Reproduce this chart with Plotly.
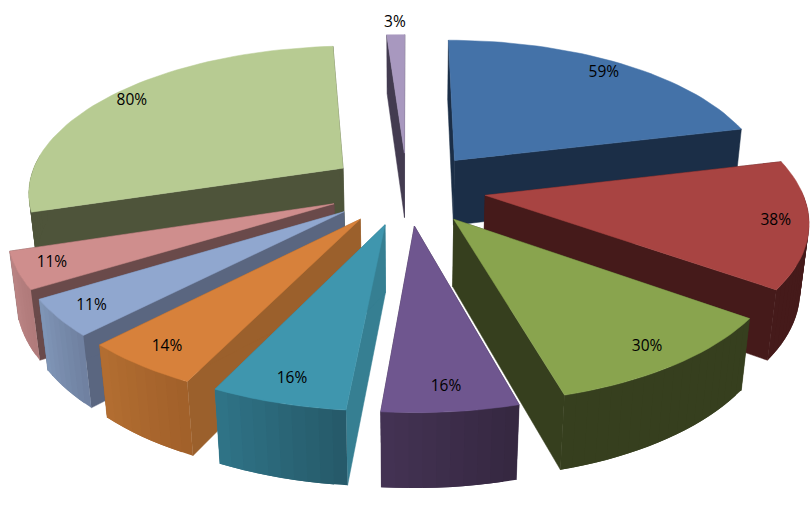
import math
import plotly.graph_objects as go

values = [59, 38, 30, 16, 16, 14, 11, 11, 80, 3]
top_colors = ["#4472a8", "#a84442", "#89a44e", "#6f568f", "#3f96ae", "#d7813b", "#90a7cf", "#cf8e8d", "#b7cb92", "#a898bf"]
rim_left = ["#1b2e47", "#451a1a", "#363f1e", "#443354", "#2f7488", "#b36e31", "#8096b8", "#bb8585", "#4e543a", "#433b50"]
rim_right = ["#1b2e47", "#451a1a", "#363f1e", "#352740", "#265968", "#a1602a", "#6f809f", "#b07a7a", "#4e543a", "#433b50"]
side_colors = ["#1b2e47", "#451a1a", "#363f1e", "#3a2b48", "#367f92", "#9b602c", "#5a6680", "#6a4a4a", "#4e543a", "#433b50"]
labels = [f"{v}%" for v in values]

CX, CY, F, G, K, H, M, E = 407, 188.3, 316, 146, 0.15, 66, 0.022, 0.25


def project(x, y, z):
    w = 1 + K * y + M * z
    wz = 1 + 0.10 * y
    return CX + F * x / w, CY - G * y / (1 + K * y) + H * z / wz


def poly(fig, pts, color, lw=0.5):
    fig.add_trace(go.Scatter(
        x=[p[0] for p in pts] + [pts[0][0]],
        y=[p[1] for p in pts] + [pts[0][1]],
        mode="lines", fill="toself", fillcolor=color,
        line=dict(color=color, width=lw), hoverinfo="skip", showlegend=False,
    ))


def lerp(a, b, t):
    ca = [int(a[i:i + 2], 16) for i in (1, 3, 5)]
    cb = [int(b[i:i + 2], 16) for i in (1, 3, 5)]
    return "#%02x%02x%02x" % tuple(round(p + (q - p) * t) for p, q in zip(ca, cb))


total = sum(values)
slices = []
start = 0.0
for i, v in enumerate(values):
    sweep = v / total * 2 * math.pi
    slices.append((i, start, start + sweep))
    start += sweep

fig = go.Figure()
label_x, label_y = [], []


def offs(mid):
    return E * math.sin(mid), E * math.cos(mid)


order = sorted(slices, key=lambda s: -offs((s[1] + s[2]) / 2)[1])
for i, a0, a1 in order:
    mid = (a0 + a1) / 2
    ox, oy = offs(mid)
    n = max(8, int((a1 - a0) * 30))
    angs = [a0 + (a1 - a0) * j / n for j in range(n + 1)]
    ring = [(ox + math.sin(a), oy + math.cos(a)) for a in angs]
    # radial side walls
    for a in (a0, a1):
        ex, ey = ox + math.sin(a), oy + math.cos(a)
        poly(fig, [project(ox, oy, 0), project(ex, ey, 0), project(ex, ey, 1), project(ox, oy, 1)], side_colors[i])
    # outer rim, front-facing part only; each strip overlaps the next to avoid seams
    for j in range(n):
        if math.cos(angs[j]) < 0.03 or math.cos(angs[j + 1]) < 0.03:
            k = min(j + 2, n)
            (x0, y0), (x1, y1) = ring[j], ring[k]
            poly(fig, [project(x0, y0, 0), project(*ring[j + 1], 0), project(x1, y1, 0),
                       project(x1, y1, 1), project(*ring[j + 1], 1), project(x0, y0, 1)],
                 lerp(rim_right[i], rim_left[i], (j + 0.5) / n), lw=0)
    # top face
    poly(fig, [project(ox, oy, 0)] + [project(x, y, 0) for x, y in ring], top_colors[i])
    c = math.cos(mid)
    if i == 9:
        r = 1.115
    else:
        r = 0.8 + 0.1 * math.sin(mid) ** 2 + 0.07 * max(c, 0) + 0.085 * (c * c if c < 0 else 0)
    lx, ly = project(ox + r * math.sin(mid), oy + r * c, 0)
    label_x.append(lx)
    label_y.append(ly)

fig.add_trace(go.Scatter(
    x=label_x, y=label_y, mode="text",
    text=[labels[s[0]] for s in order],
    textfont=dict(family="Open Sans", size=15.5, color="#000000"),
    hoverinfo="skip", showlegend=False,
))

fig.update_layout(
    width=812, height=506, margin=dict(l=0, r=0, t=0, b=0),
    paper_bgcolor="white", plot_bgcolor="white",
    xaxis=dict(range=[0, 812], visible=False),
    yaxis=dict(range=[506, 0], visible=False),
)
fig.write_html("out.html", config={"displayModeBar": False},
               post_script="document.body.style.margin='0';")
